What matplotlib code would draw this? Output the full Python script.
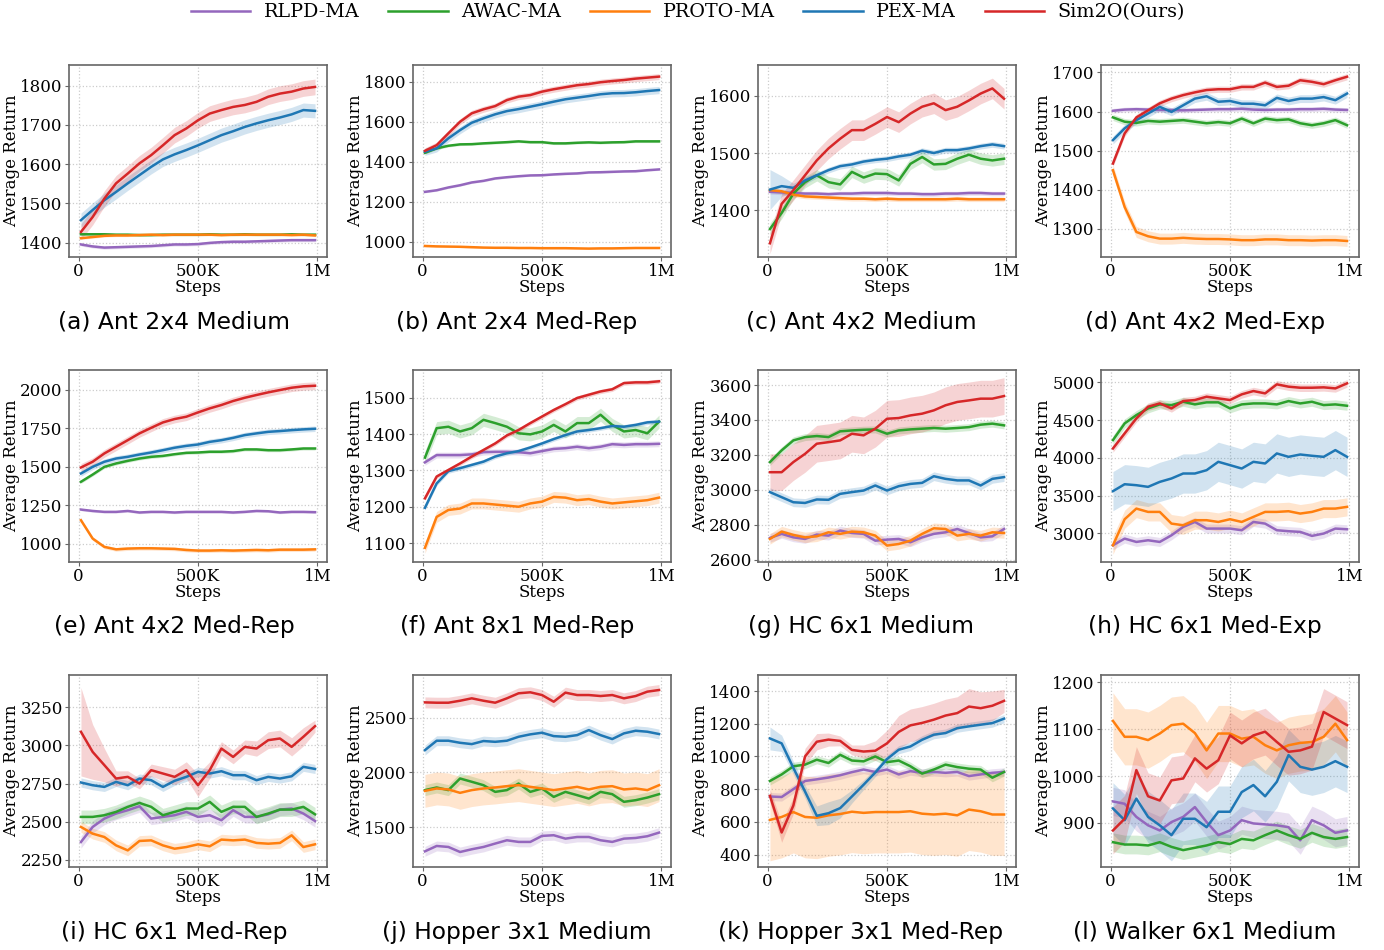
import numpy as np
import matplotlib
matplotlib.use('Agg')
import matplotlib.pyplot as plt
from matplotlib.ticker import MultipleLocator, FuncFormatter

steps = np.linspace(10000, 990000, 21)

methods = ['RLPD-MA', 'AWAC-MA', 'PROTO-MA', 'PEX-MA', 'Sim2O(Ours)']
colors = ['#9467bd', '#2ca02c', '#ff7f0e', '#1f77b4', '#d62728']

titles = ['(a) Ant 2x4 Medium', '(b) Ant 2x4 Med-Rep', '(c) Ant 4x2 Medium', '(d) Ant 4x2 Med-Exp',
          '(e) Ant 4x2 Med-Rep', '(f) Ant 8x1 Med-Rep', '(g) HC 6x1 Medium', '(h) HC 6x1 Med-Exp',
          '(i) HC 6x1 Med-Rep', '(j) Hopper 3x1 Medium', '(k) Hopper 3x1 Med-Rep', '(l) Walker 6x1 Medium']

# (a) Ant 2x4 Medium
a_rlpd = [1395, 1390, 1387, 1388, 1389, 1390, 1391, 1393, 1395, 1395, 1396, 1399, 1401, 1402, 1402, 1403, 1404, 1405, 1406, 1406, 1406]
a_awac = [1421, 1421, 1421, 1420, 1420, 1419, 1419, 1420, 1420, 1420, 1420, 1421, 1420, 1420, 1421, 1420, 1420, 1420, 1421, 1420, 1420]
a_proto = [1411, 1414, 1417, 1418, 1418, 1419, 1420, 1419, 1420, 1420, 1420, 1420, 1419, 1420, 1420, 1420, 1420, 1420, 1419, 1420, 1418]
a_pex = [1457, 1483, 1508, 1529, 1551, 1572, 1593, 1612, 1625, 1636, 1648, 1661, 1674, 1684, 1695, 1704, 1712, 1719, 1727, 1738, 1736]
a_sim2o = [1427, 1465, 1512, 1551, 1576, 1602, 1623, 1648, 1674, 1691, 1712, 1729, 1738, 1746, 1751, 1759, 1772, 1780, 1785, 1793, 1797]
a_std = [4, 3, 3, 18, 20]

# (b) Ant 2x4 Med-Rep
b_rlpd = [1250, 1258, 1272, 1283, 1297, 1305, 1317, 1323, 1328, 1332, 1333, 1337, 1340, 1342, 1347, 1348, 1350, 1352, 1353, 1358, 1362]
b_awac = [1445, 1467, 1480, 1487, 1488, 1492, 1495, 1498, 1502, 1498, 1498, 1492, 1492, 1495, 1497, 1495, 1497, 1498, 1502, 1502, 1502]
b_proto = [980, 978, 977, 976, 974, 972, 971, 971, 970, 970, 969, 969, 969, 968, 967, 968, 968, 969, 970, 970, 970]
b_pex = [1450, 1467, 1517, 1558, 1595, 1617, 1637, 1653, 1663, 1675, 1687, 1700, 1712, 1720, 1728, 1737, 1742, 1743, 1747, 1753, 1758]
b_sim2o = [1455, 1483, 1542, 1600, 1642, 1662, 1678, 1708, 1725, 1733, 1750, 1762, 1772, 1782, 1788, 1797, 1803, 1808, 1815, 1820, 1825]
b_std = [5, 6, 4, 18, 15]

# (c) Ant 4x2 Medium
c_rlpd = [1432, 1431, 1430, 1429, 1429, 1428, 1429, 1429, 1430, 1430, 1430, 1429, 1429, 1428, 1428, 1429, 1429, 1430, 1430, 1429, 1429]
c_awac = [1367, 1395, 1429, 1449, 1461, 1449, 1445, 1467, 1457, 1464, 1463, 1452, 1481, 1493, 1480, 1481, 1490, 1497, 1490, 1487, 1490]
c_proto = [1435, 1433, 1427, 1424, 1423, 1422, 1421, 1420, 1420, 1419, 1420, 1419, 1419, 1419, 1419, 1419, 1420, 1419, 1419, 1419, 1419]
c_pex = [1436, 1442, 1439, 1452, 1461, 1470, 1477, 1480, 1485, 1488, 1490, 1494, 1497, 1504, 1500, 1505, 1505, 1508, 1512, 1515, 1512]
c_sim2o = [1342, 1411, 1435, 1461, 1487, 1508, 1525, 1540, 1540, 1551, 1563, 1554, 1569, 1581, 1587, 1575, 1581, 1592, 1604, 1613, 1595]
c_pex_std = [35, 18, 8, 6, 5, 5, 5, 5, 5, 5, 5, 5, 5, 5, 5, 5, 5, 5, 5, 5, 5]
c_std = [4, 10, 4, c_pex_std, 18]

# (d) Ant 4x2 Med-Exp
d_rlpd = [1602, 1605, 1606, 1605, 1604, 1604, 1603, 1604, 1605, 1606, 1606, 1607, 1605, 1604, 1605, 1605, 1606, 1606, 1607, 1605, 1604]
d_awac = [1585, 1574, 1571, 1576, 1574, 1576, 1578, 1574, 1570, 1573, 1570, 1582, 1570, 1582, 1578, 1580, 1570, 1565, 1570, 1578, 1565]
d_proto = [1450, 1356, 1292, 1281, 1275, 1275, 1277, 1275, 1274, 1274, 1273, 1271, 1271, 1273, 1273, 1271, 1271, 1270, 1271, 1271, 1269]
d_pex = [1527, 1557, 1578, 1595, 1612, 1599, 1616, 1633, 1639, 1625, 1627, 1620, 1620, 1616, 1635, 1627, 1633, 1633, 1637, 1629, 1646]
d_sim2o = [1467, 1544, 1585, 1603, 1621, 1633, 1642, 1649, 1655, 1657, 1657, 1663, 1663, 1674, 1663, 1666, 1680, 1676, 1670, 1680, 1689]
d_std = [6, 8, 14, 10, 8]

# (e) Ant 4x2 Med-Rep
e_rlpd = [1223, 1214, 1208, 1208, 1214, 1204, 1208, 1208, 1204, 1208, 1208, 1208, 1208, 1204, 1208, 1214, 1212, 1204, 1208, 1208, 1206]
e_awac = [1403, 1450, 1500, 1522, 1539, 1554, 1565, 1571, 1582, 1591, 1593, 1598, 1598, 1602, 1613, 1613, 1608, 1608, 1613, 1619, 1619]
e_proto = [1154, 1035, 981, 965, 970, 972, 972, 970, 968, 961, 957, 957, 959, 957, 959, 961, 959, 963, 963, 963, 965]
e_pex = [1457, 1500, 1533, 1554, 1565, 1580, 1593, 1608, 1624, 1636, 1645, 1662, 1673, 1688, 1706, 1717, 1727, 1732, 1738, 1743, 1747]
e_sim2o = [1496, 1533, 1587, 1630, 1673, 1717, 1753, 1788, 1810, 1825, 1853, 1879, 1901, 1927, 1948, 1966, 1983, 1998, 2013, 2022, 2026]
e_std = [8, 10, 12, 18, 25]

# (f) Ant 8x1 Med-Rep
f_rlpd = [1322, 1342, 1342, 1342, 1344, 1350, 1351, 1351, 1350, 1347, 1353, 1359, 1361, 1365, 1361, 1365, 1372, 1370, 1372, 1372, 1373]
f_awac = [1335, 1416, 1420, 1407, 1416, 1439, 1430, 1420, 1402, 1399, 1407, 1425, 1407, 1430, 1430, 1453, 1425, 1407, 1411, 1402, 1434]
f_proto = [1087, 1172, 1191, 1195, 1209, 1209, 1206, 1203, 1200, 1209, 1214, 1227, 1225, 1218, 1221, 1214, 1209, 1212, 1215, 1218, 1225]
f_pex = [1197, 1264, 1298, 1306, 1315, 1324, 1338, 1347, 1353, 1363, 1374, 1386, 1397, 1407, 1411, 1416, 1422, 1420, 1425, 1432, 1434]
f_sim2o = [1223, 1283, 1301, 1319, 1338, 1356, 1374, 1396, 1411, 1430, 1448, 1466, 1482, 1499, 1508, 1517, 1523, 1540, 1542, 1542, 1545]
f_std = [8, 18, 15, 6, 6]

# (g) HC 6x1 Medium
g_rlpd = [2725, 2748, 2728, 2719, 2744, 2738, 2767, 2753, 2748, 2709, 2715, 2719, 2700, 2728, 2748, 2757, 2776, 2753, 2728, 2734, 2776]
g_awac = [3159, 3226, 3283, 3302, 3308, 3302, 3335, 3340, 3344, 3346, 3321, 3340, 3346, 3350, 3354, 3350, 3354, 3359, 3373, 3379, 3369]
g_proto = [2719, 2761, 2742, 2728, 2734, 2757, 2748, 2761, 2757, 2738, 2681, 2690, 2709, 2748, 2780, 2776, 2738, 2748, 2738, 2757, 2753]
g_pex = [2987, 2958, 2929, 2925, 2945, 2943, 2977, 2987, 2996, 3025, 2996, 3021, 3034, 3040, 3078, 3063, 3054, 3054, 3025, 3063, 3073]
g_sim2o = [3101, 3101, 3159, 3206, 3264, 3273, 3283, 3321, 3312, 3350, 3407, 3411, 3426, 3436, 3455, 3484, 3503, 3512, 3522, 3522, 3537]
g_std = [25, 20, 30, 25, 105]

# (h) HC 6x1 Med-Exp
h_rlpd = [2841, 2929, 2885, 2907, 2885, 2973, 3084, 3150, 3062, 3062, 3062, 3040, 3150, 3128, 3040, 3027, 3018, 2965, 2996, 3062, 3053]
h_awac = [4235, 4456, 4566, 4655, 4708, 4699, 4743, 4708, 4735, 4735, 4655, 4708, 4721, 4721, 4708, 4752, 4721, 4743, 4699, 4708, 4690]
h_proto = [2841, 3186, 3327, 3283, 3283, 3128, 3106, 3173, 3173, 3150, 3186, 3150, 3217, 3283, 3283, 3292, 3261, 3283, 3327, 3327, 3350]
h_pex = [3558, 3650, 3637, 3615, 3681, 3726, 3792, 3792, 3836, 3947, 3903, 3858, 3947, 3925, 4058, 4013, 4044, 4027, 4013, 4102, 4013]
h_sim2o = [4124, 4323, 4522, 4677, 4721, 4655, 4752, 4766, 4810, 4788, 4766, 4841, 4885, 4854, 4974, 4943, 4929, 4929, 4934, 4920, 4987]
h_std = [60, 60, 120, 260, 50]

# (i) HC 6x1 Med-Rep
i_rlpd = [2366, 2465, 2520, 2553, 2575, 2601, 2520, 2531, 2542, 2564, 2531, 2542, 2509, 2575, 2531, 2531, 2548, 2579, 2586, 2553, 2504]
i_awac = [2531, 2531, 2542, 2564, 2597, 2623, 2597, 2542, 2564, 2586, 2586, 2630, 2564, 2597, 2597, 2531, 2553, 2579, 2579, 2597, 2548]
i_proto = [2465, 2421, 2399, 2344, 2311, 2373, 2377, 2344, 2322, 2333, 2351, 2338, 2382, 2377, 2382, 2360, 2355, 2360, 2410, 2333, 2351]
i_pex = [2757, 2739, 2728, 2761, 2739, 2783, 2772, 2728, 2768, 2794, 2827, 2816, 2831, 2805, 2805, 2772, 2794, 2783, 2798, 2860, 2846]
i_sim2o = [3090, 2958, 2871, 2783, 2794, 2750, 2838, 2816, 2794, 2838, 2739, 2838, 2980, 2925, 2991, 2980, 3035, 3046, 2991, 3057, 3127]
i_sim2o_std = [290, 180, 110, 50, 40, 35, 40, 45, 50, 55, 75, 55, 45, 45, 45, 50, 55, 55, 60, 60, 40]
i_std = [40, 45, 35, 30, i_sim2o_std]

# (j) Hopper 3x1 Medium
j_rlpd = [1280, 1329, 1320, 1274, 1299, 1320, 1351, 1381, 1366, 1366, 1421, 1427, 1396, 1411, 1411, 1381, 1366, 1396, 1402, 1418, 1451]
j_awac = [1839, 1863, 1839, 1945, 1915, 1884, 1823, 1839, 1899, 1823, 1854, 1777, 1823, 1793, 1762, 1823, 1802, 1732, 1747, 1771, 1802]
j_proto = [1832, 1854, 1845, 1814, 1839, 1854, 1863, 1875, 1884, 1869, 1854, 1839, 1854, 1869, 1845, 1869, 1875, 1845, 1854, 1839, 1884]
j_pex = [2204, 2290, 2290, 2271, 2259, 2287, 2280, 2290, 2326, 2348, 2363, 2332, 2326, 2341, 2387, 2341, 2305, 2357, 2381, 2372, 2351]
j_sim2o = [2640, 2637, 2637, 2655, 2677, 2655, 2637, 2677, 2723, 2732, 2707, 2646, 2729, 2707, 2707, 2698, 2707, 2677, 2698, 2738, 2753]
j_std = [45, 50, 150, 45, 50]

# (k) Hopper 3x1 Med-Rep
k_rlpd = [755, 752, 800, 850, 860, 871, 885, 904, 920, 905, 920, 890, 910, 900, 905, 900, 905, 880, 890, 900, 905]
k_awac = [850, 890, 940, 950, 980, 960, 1010, 975, 970, 1000, 965, 975, 940, 895, 920, 950, 935, 925, 920, 870, 905]
k_proto = [612, 630, 660, 630, 625, 640, 648, 662, 655, 660, 660, 660, 665, 650, 645, 650, 640, 675, 665, 645, 645]
k_pex = [1110, 1080, 930, 785, 637, 653, 684, 755, 827, 902, 984, 1041, 1061, 1102, 1133, 1143, 1173, 1184, 1194, 1204, 1231]
k_sim2o = [759, 535, 700, 1000, 1090, 1103, 1095, 1040, 1030, 1035, 1080, 1150, 1190, 1205, 1225, 1250, 1265, 1305, 1295, 1310, 1340]
k_pex_std = [70, 50, 40, 40, 60, 70, 60, 40, 30, 25, 25, 25, 25, 25, 25, 25, 25, 25, 25, 25, 25]
k_sim2o_std = [40, 60, 50, 50, 50, 40, 30, 30, 40, 60, 80, 100, 100, 100, 100, 100, 100, 110, 100, 90, 70]
k_std = [25, 25, 250, k_pex_std, k_sim2o_std]

# (l) Walker 6x1 Medium
l_rlpd = [946, 941, 913, 895, 884, 902, 913, 934, 902, 874, 884, 906, 899, 897, 895, 891, 863, 906, 895, 879, 884]
l_awac = [859, 854, 854, 852, 859, 849, 842, 847, 852, 859, 855, 866, 863, 874, 884, 874, 866, 879, 870, 866, 870]
l_proto = [1118, 1084, 1084, 1077, 1091, 1109, 1112, 1092, 1055, 1091, 1091, 1080, 1084, 1066, 1055, 1066, 1071, 1073, 1084, 1112, 1077]
l_pex = [931, 906, 952, 913, 895, 874, 909, 909, 891, 924, 924, 966, 981, 957, 988, 1045, 1020, 1014, 1020, 1032, 1020]
l_sim2o = [884, 909, 1013, 957, 948, 991, 995, 1038, 1016, 1034, 1087, 1070, 1087, 1095, 1073, 1052, 1055, 1063, 1137, 1123, 1109]
l_std = [30, 20, 60, 55, 50]

panels = [
    (a_rlpd, a_awac, a_proto, a_pex, a_sim2o, a_std),
    (b_rlpd, b_awac, b_proto, b_pex, b_sim2o, b_std),
    (c_rlpd, c_awac, c_proto, c_pex, c_sim2o, c_std),
    (d_rlpd, d_awac, d_proto, d_pex, d_sim2o, d_std),
    (e_rlpd, e_awac, e_proto, e_pex, e_sim2o, e_std),
    (f_rlpd, f_awac, f_proto, f_pex, f_sim2o, f_std),
    (g_rlpd, g_awac, g_proto, g_pex, g_sim2o, g_std),
    (h_rlpd, h_awac, h_proto, h_pex, h_sim2o, h_std),
    (i_rlpd, i_awac, i_proto, i_pex, i_sim2o, i_std),
    (j_rlpd, j_awac, j_proto, j_pex, j_sim2o, j_std),
    (k_rlpd, k_awac, k_proto, k_pex, k_sim2o, k_std),
    (l_rlpd, l_awac, l_proto, l_pex, l_sim2o, l_std),
]

ylims = [(1363, 1853), (925, 1883), (1318, 1654), (1228, 1719),
         (883, 2128), (1048, 1576), (2587, 3686), (2619, 5164),
         (2202, 3463), (1137, 2890), (324, 1498), (806, 1216)]
ytick_step = [100, 200, 100, 100, 250, 100, 200, 500, 250, 500, 200, 100]

W, H = 1384, 950
col_left = [69, 413, 758, 1101]
row_top = [65, 370, 675]
ax_w, ax_h = 258, 192
title_x = [174, 517, 861, 1205]
title_y = [322, 627, 932]

plt.rcParams['font.family'] = 'DejaVu Serif'

fig = plt.figure(figsize=(W / 100, H / 100), dpi=100)


def fmt_steps(v, pos):
    if v == 0:
        return '0'
    if v >= 1e6:
        return '%dM' % (v / 1e6)
    return '%dK' % (v / 1e3)


for idx, panel in enumerate(panels):
    r, c = divmod(idx, 4)
    ax = fig.add_axes([col_left[c] / W, 1 - (row_top[r] + ax_h) / H, ax_w / W, ax_h / H])
    series = panel[:5]
    stds = panel[5]
    for k in range(5):
        y = np.asarray(series[k], dtype=float)
        s = np.broadcast_to(np.asarray(stds[k], dtype=float), y.shape)
        ax.fill_between(steps, y - s, y + s, color=colors[k], alpha=0.2, linewidth=0)
        ax.plot(steps, y, color=colors[k], linewidth=1.8, label=methods[k])
    ax.set_xlim(-40000, 1040000)
    ax.set_ylim(*ylims[idx])
    ax.set_xticks([0, 500000, 1000000])
    ax.xaxis.set_major_formatter(FuncFormatter(fmt_steps))
    ax.yaxis.set_major_locator(MultipleLocator(ytick_step[idx]))
    ax.grid(True, linestyle=':', color='#cccccc', linewidth=0.9)
    ax.set_axisbelow(True)
    for sp in ax.spines.values():
        sp.set_color('#666666')
        sp.set_linewidth(1.2)
    ax.tick_params(labelsize=12, length=3, color='#666666', pad=1.5)
    ax.set_xlabel('Steps', fontsize=12, labelpad=-1)
    ax.set_ylabel('Average Return', fontsize=12, labelpad=0)
    fig.text(title_x[c] / W, 1 - title_y[r] / H, titles[idx], fontsize=16.8,
             family='DejaVu Sans', ha='center', va='center')
    if idx == 0:
        handles, labels = ax.get_legend_handles_labels()

fig.legend(handles, labels, loc='center', bbox_to_anchor=(0.497, 0.987), ncol=5,
           frameon=False, fontsize=13.8, handlelength=3.1, handletextpad=0.7,
           columnspacing=1.5)

fig.savefig('out.png', dpi=100)
